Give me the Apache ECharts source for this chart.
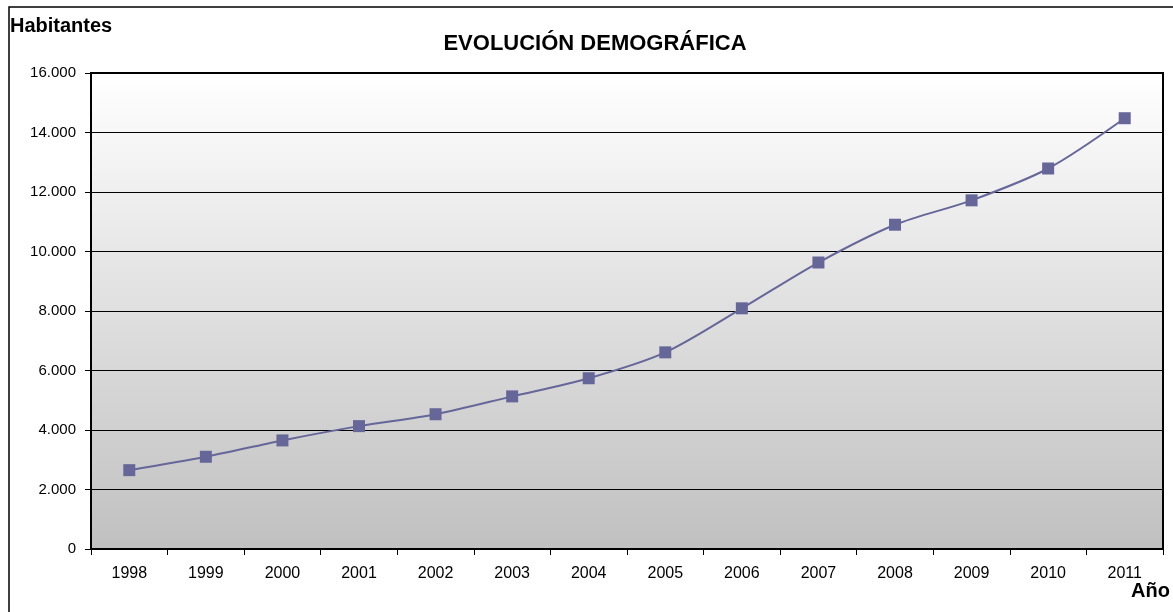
<!DOCTYPE html>
<html>
<head>
<meta charset="utf-8">
<script src="https://cdn.jsdelivr.net/npm/echarts@6/dist/echarts.min.js"></script>
<style>
html,body{margin:0;padding:0;background:#fff;}
#c{width:1173px;height:612px;}
</style>
</head>
<body>
<div id="c"></div>
<script>
const years = ['1998','1999','2000','2001','2002','2003','2004','2005','2006','2007','2008','2009','2010','2011'];
const habitantes = [2650, 3100, 3650, 4130, 4530, 5130, 5740, 6610, 8090, 9630, 10900, 11720, 12790, 14480];
const yTicks = [0, 2000, 4000, 6000, 8000, 10000, 12000, 14000, 16000];

const chart = echarts.init(document.getElementById('c'));
const fmt = v => String(v).replace(/\B(?=(\d{3})+(?!\d))/g, '.');
chart.setOption({
  animation: false,
  backgroundColor: '#ffffff',
  textStyle: { fontFamily: 'Liberation Sans, Arial, sans-serif' },
  title: {
    text: 'EVOLUCIÓN DEMOGRÁFICA',
    left: 590, top: 28, textAlign: 'center',
    textStyle: { fontSize: 22, fontWeight: 'bold', color: '#000', fontFamily: 'Liberation Sans, Arial, sans-serif' }
  },
  graphic: [
    { type: 'rect', shape: { x: 9, y: 7, width: 1200, height: 700 }, style: { fill: 'none', stroke: '#000', lineWidth: 1.5 }, z: -1 },
    { type: 'text', left: 10, top: 16, style: { text: 'Habitantes', font: 'bold 20px Liberation Sans, Arial, sans-serif', fill: '#000' } },
    { type: 'text', left: 1131, top: 581, style: { text: 'Año', font: 'bold 20px Liberation Sans, Arial, sans-serif', fill: '#000' } }
  ],
  grid: {
    left: 91, right: 10, top: 73, bottom: 63,
    show: true,
    borderColor: '#000', borderWidth: 2,
    backgroundColor: new echarts.graphic.LinearGradient(0, 0, 0, 1, [
      { offset: 0, color: '#ffffff' },
      { offset: 1, color: '#c0c0c0' }
    ])
  },
  xAxis: {
    type: 'category',
    data: years,
    boundaryGap: true,
    axisLine: { lineStyle: { color: '#000', width: 2 } },
    axisTick: { show: true, interval: 0, length: 6, lineStyle: { color: '#000', width: 1 } },
    axisLabel: { color: '#000', fontSize: 16, margin: 17, interval: 0 },
    splitLine: { show: false }
  },
  yAxis: {
    type: 'value',
    min: yTicks[0], max: yTicks[yTicks.length - 1], interval: 2000,
    axisLine: { show: true, lineStyle: { color: '#000', width: 2 } },
    axisTick: { show: true, length: 6, lineStyle: { color: '#000', width: 1 } },
    axisLabel: { color: '#000', fontSize: 15, margin: 15, formatter: fmt },
    splitLine: { show: true, lineStyle: { color: '#000', width: 1 } }
  },
  series: [{
    type: 'line',
    data: habitantes,
    smooth: 0.3,
    symbol: 'rect',
    symbolSize: 12,
    itemStyle: { color: '#666699' },
    lineStyle: { color: '#666699', width: 2 }
  }]
});
</script>
</body>
</html>
